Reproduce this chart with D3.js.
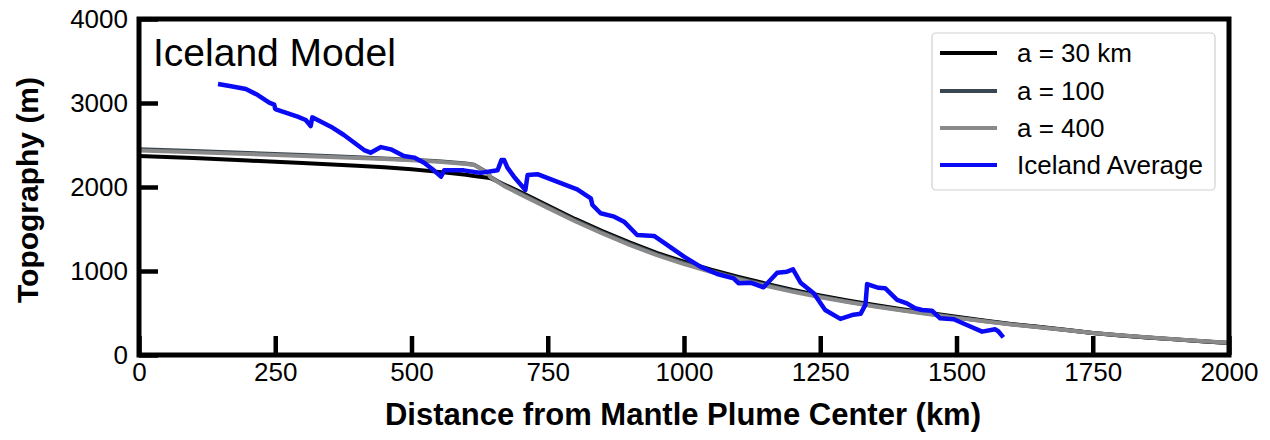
<!DOCTYPE html>
<html><head><meta charset="utf-8">
<script src="https://cdn.jsdelivr.net/npm/d3@7"></script>
<style>
body{margin:0;background:#fff;}
svg{display:block;font-family:"Liberation Sans",Arial,sans-serif;}
</style></head>
<body><svg id="c" width="1270" height="440"></svg>
<script>
// ---- data ----
const xTicks = [0,250,500,750,1000,1250,1500,1750,2000];
const yTicks = [0,1000,2000,3000,4000];
const seriesNames = ["a = 30 km","a = 100","a = 400","Iceland Average"];
const seriesColors = ["#000000","#3a4750","#8a8a8a","#0a0af5"];

const modelKm = [0,100,200,300,400,450,500,550,600,615,640,645,670,700,750,800,850,900,950,1000,1050,1100,1150,1200,1250,1300,1350,1400,1450,1500,1550,1600,1650,1700,1750,1800,1850,1900,1950,2000];
const a30  = [2370,2345,2315,2285,2252,2235,2210,2180,2145,2130,2110,2105,2030,1940,1780,1620,1475,1340,1215,1110,1015,930,850,775,710,650,595,545,500,455,410,370,335,300,262,233,208,186,164,143];
const a100 = [2450,2428,2405,2382,2355,2340,2325,2308,2280,2265,2170,2120,2020,1925,1765,1605,1460,1325,1200,1095,1000,915,836,762,697,638,584,535,491,447,405,366,332,298,262,234,209,187,165,144];
const a400 = [2435,2415,2393,2370,2345,2332,2318,2300,2275,2262,2165,2115,2010,1912,1752,1592,1447,1312,1188,1082,988,902,824,752,688,630,577,529,486,442,402,364,331,297,262,235,210,188,166,145];

const iceKm = [145,169,196,218,239,248,250,254,291,306,315,318,352,376,413,425,444,462,486,505,523,538,554,560,596,627,658,665,670,676,688,709,713,731,804,829,832,847,872,890,914,945,969,1000,1030,1061,1091,1100,1122,1146,1171,1189,1200,1214,1238,1259,1287,1311,1324,1333,1336,1357,1369,1391,1409,1424,1437,1455,1470,1495,1519,1547,1571,1577,1586];
const iceM  = [3226,3200,3167,3095,3004,2980,2930,2917,2837,2798,2726,2829,2718,2619,2440,2409,2475,2448,2369,2350,2289,2215,2123,2198,2198,2168,2200,2320,2320,2230,2123,1964,2143,2153,1972,1865,1786,1687,1647,1587,1429,1417,1310,1171,1052,964,913,855,861,806,980,992,1020,860,734,536,430,480,490,600,845,800,795,655,615,556,536,528,437,425,357,278,306,280,210];

// ---- layout ----
const L=139, R=1229, T=19, B=355;
const svg = d3.select("#c");
const x = d3.scaleLinear().domain([0,2000]).range([L,R]);
const y = d3.scaleLinear().domain([0,4000]).range([B,T]);

const line = d3.line().x(d=>x(d[0])).y(d=>y(d[1]));
const modelSeries = [a30,a100,a400].map(v=>modelKm.map((k,i)=>[k,v[i]]));
const iceSeries = iceKm.map((k,i)=>[k,iceM[i]]);

svg.append("defs").append("clipPath").attr("id","clip")
  .append("rect").attr("x",L).attr("y",T).attr("width",R-L).attr("height",B-T);

const g = svg.append("g").attr("clip-path","url(#clip)");
modelSeries.forEach((s,i)=>{
  g.append("path").datum(s).attr("d",line).attr("fill","none")
   .attr("stroke",seriesColors[i]).attr("stroke-width",4).attr("stroke-linejoin","round");
});
g.append("path").datum(iceSeries).attr("d",line).attr("fill","none")
  .attr("stroke",seriesColors[3]).attr("stroke-width",4.5).attr("stroke-linejoin","round");

// axes
const xa = svg.append("g").attr("transform",`translate(0,${B})`)
  .call(d3.axisBottom(x).tickValues(xTicks).tickFormat(d3.format("d")).tickSizeInner(-19).tickSizeOuter(0).tickPadding(8));
const ya = svg.append("g").attr("transform",`translate(${L},0)`)
  .call(d3.axisLeft(y).tickValues(yTicks).tickFormat(d3.format("d")).tickSizeInner(-19).tickSizeOuter(0).tickPadding(11));
[xa,ya].forEach(a=>{
  a.select(".domain").remove();
  a.selectAll(".tick line").attr("stroke","#000").attr("stroke-width",4.5);
  a.selectAll(".tick text").attr("font-size",26).attr("fill","#000")
   .attr("font-family","Liberation Sans, Arial, sans-serif");
});

// frame
svg.append("rect").attr("x",L).attr("y",T).attr("width",R-L).attr("height",B-T)
  .attr("fill","none").attr("stroke","#000").attr("stroke-width",5);

// titles
svg.append("text").attr("x",(L+R)/2-1).attr("y",425).attr("text-anchor","middle")
  .attr("font-size",31).attr("font-weight","bold").text("Distance from Mantle Plume Center (km)");
svg.append("text").attr("transform",`translate(38,190) rotate(-90)`).attr("text-anchor","middle")
  .attr("font-size",30).attr("font-weight","bold").text("Topography (m)");
svg.append("text").attr("x",153).attr("y",66).attr("font-size",39).text("Iceland Model");

// legend
const lg = svg.append("g");
lg.append("rect").attr("x",932).attr("y",33).attr("width",283).attr("height",157)
  .attr("rx",4).attr("fill","#fff").attr("stroke","#d0d0d0").attr("stroke-width",1.2);
const rowY = [53,91,128,165];
seriesNames.forEach((n,i)=>{
  lg.append("line").attr("x1",940).attr("x2",997).attr("y1",rowY[i]).attr("y2",rowY[i])
    .attr("stroke",seriesColors[i]).attr("stroke-width",4);
  lg.append("text").attr("x",1017).attr("y",rowY[i]).attr("dy","0.36em")
    .attr("font-size",26).text(n);
});
</script></body></html>
